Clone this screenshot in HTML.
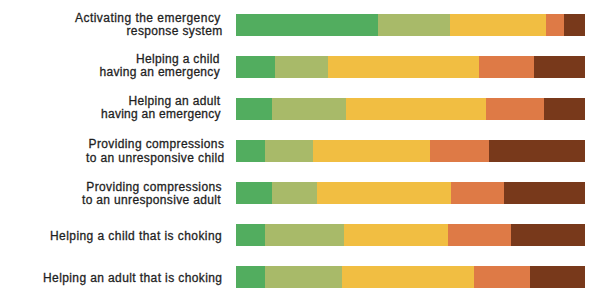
<!DOCTYPE html>
<html><head><meta charset="utf-8"><style>
html,body{margin:0;padding:0;background:#fff;width:600px;height:304px;overflow:hidden;position:relative}
.s{position:absolute}
.t{position:absolute;font-family:"Liberation Sans",sans-serif;font-size:12px;color:#1f1f1f;white-space:nowrap;line-height:15px;-webkit-text-stroke:0.3px #1f1f1f}
</style></head><body>
<div class="s" style="left:236px;top:14px;width:142px;height:22px;background:#52ad5f"></div>
<div class="s" style="left:378px;top:14px;width:72px;height:22px;background:#a8ba69"></div>
<div class="s" style="left:450px;top:14px;width:96px;height:22px;background:#f1be42"></div>
<div class="s" style="left:546px;top:14px;width:18px;height:22px;background:#de7a46"></div>
<div class="s" style="left:564px;top:14px;width:21px;height:22px;background:#78391b"></div>
<div class="s" style="left:236px;top:56px;width:39px;height:22px;background:#52ad5f"></div>
<div class="s" style="left:275px;top:56px;width:53px;height:22px;background:#a8ba69"></div>
<div class="s" style="left:328px;top:56px;width:151px;height:22px;background:#f1be42"></div>
<div class="s" style="left:479px;top:56px;width:55px;height:22px;background:#de7a46"></div>
<div class="s" style="left:534px;top:56px;width:51px;height:22px;background:#78391b"></div>
<div class="s" style="left:236px;top:98px;width:36px;height:22px;background:#52ad5f"></div>
<div class="s" style="left:272px;top:98px;width:74px;height:22px;background:#a8ba69"></div>
<div class="s" style="left:346px;top:98px;width:140px;height:22px;background:#f1be42"></div>
<div class="s" style="left:486px;top:98px;width:58px;height:22px;background:#de7a46"></div>
<div class="s" style="left:544px;top:98px;width:41px;height:22px;background:#78391b"></div>
<div class="s" style="left:236px;top:140px;width:29px;height:22px;background:#52ad5f"></div>
<div class="s" style="left:265px;top:140px;width:48px;height:22px;background:#a8ba69"></div>
<div class="s" style="left:313px;top:140px;width:117px;height:22px;background:#f1be42"></div>
<div class="s" style="left:430px;top:140px;width:59px;height:22px;background:#de7a46"></div>
<div class="s" style="left:489px;top:140px;width:96px;height:22px;background:#78391b"></div>
<div class="s" style="left:236px;top:182px;width:36px;height:22px;background:#52ad5f"></div>
<div class="s" style="left:272px;top:182px;width:45px;height:22px;background:#a8ba69"></div>
<div class="s" style="left:317px;top:182px;width:134px;height:22px;background:#f1be42"></div>
<div class="s" style="left:451px;top:182px;width:53px;height:22px;background:#de7a46"></div>
<div class="s" style="left:504px;top:182px;width:81px;height:22px;background:#78391b"></div>
<div class="s" style="left:236px;top:224px;width:29px;height:22px;background:#52ad5f"></div>
<div class="s" style="left:265px;top:224px;width:79px;height:22px;background:#a8ba69"></div>
<div class="s" style="left:344px;top:224px;width:104px;height:22px;background:#f1be42"></div>
<div class="s" style="left:448px;top:224px;width:63px;height:22px;background:#de7a46"></div>
<div class="s" style="left:511px;top:224px;width:74px;height:22px;background:#78391b"></div>
<div class="s" style="left:236px;top:266px;width:29px;height:22px;background:#52ad5f"></div>
<div class="s" style="left:265px;top:266px;width:77px;height:22px;background:#a8ba69"></div>
<div class="s" style="left:342px;top:266px;width:132px;height:22px;background:#f1be42"></div>
<div class="s" style="left:474px;top:266px;width:56px;height:22px;background:#de7a46"></div>
<div class="s" style="left:530px;top:266px;width:55px;height:22px;background:#78391b"></div>
<div class="t" style="left:75.00px;top:11.21px;letter-spacing:0.461px">Activating the emergency</div>
<div class="t" style="left:126.50px;top:24.00px;letter-spacing:0.357px">response system</div>
<div class="t" style="left:136.00px;top:52.41px;letter-spacing:0.329px">Helping a child</div>
<div class="t" style="left:99.50px;top:65.10px;letter-spacing:0.300px">having an emergency</div>
<div class="t" style="left:128.50px;top:93.72px;letter-spacing:0.320px">Helping an adult</div>
<div class="t" style="left:101.00px;top:107.41px;letter-spacing:0.267px">having an emergency</div>
<div class="t" style="left:88.50px;top:136.61px;letter-spacing:0.381px">Providing compressions</div>
<div class="t" style="left:86.00px;top:150.51px;letter-spacing:0.383px">to an unresponsive child</div>
<div class="t" style="left:86.30px;top:179.81px;letter-spacing:0.371px">Providing compressions</div>
<div class="t" style="left:82.00px;top:192.81px;letter-spacing:0.339px">to an unresponsive adult</div>
<div class="t" style="left:50.00px;top:229.30px;letter-spacing:0.433px">Helping a child that is choking</div>
<div class="t" style="left:43.00px;top:271.41px;letter-spacing:0.394px">Helping an adult that is choking</div>
</body></html>
